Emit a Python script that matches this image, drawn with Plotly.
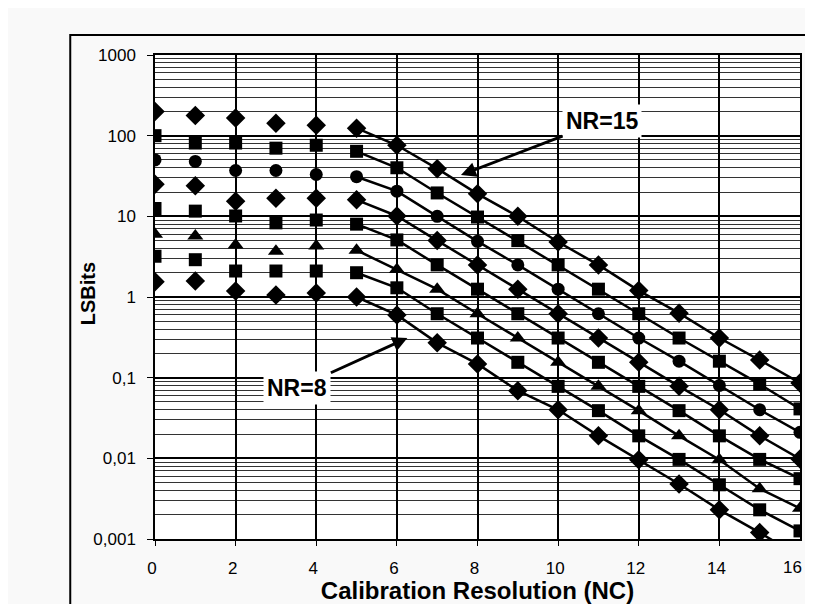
import plotly.graph_objects as go

# ---------------- data ----------------
NC_LEFT = [0, 1, 2, 3, 4]
NC_RIGHT = [5, 6, 7, 8, 9, 10, 11, 12, 13, 14, 15, 16]
NR_LIST = [15, 14, 13, 12, 11, 10, 9, 8]

left_nr15 = [200, 178, 166, 143, 135]
left_nr14 = [100, 81, 81, 70, 76]
left_nr13 = [50, 48, 37, 37, 33]
left_nr12 = [25, 24, 15.4, 16.8, 16.8]
left_nr11 = [12.5, 11.6, 10.1, 8.3, 9.0]
left_nr10 = [6.0, 5.7, 4.4, 3.7, 4.3]
left_nr9 = [3.2, 2.9, 2.1, 2.1, 2.1]
left_nr8 = [1.55, 1.58, 1.19, 1.06, 1.12]

right_nr15 = [124, 76, 39, 19, 10, 4.8, 2.5, 1.2, 0.63, 0.31, 0.165, 0.086]
right_nr14 = [64, 40, 19.5, 9.8, 5.0, 2.5, 1.25, 0.62, 0.31, 0.16, 0.083, 0.041]
right_nr13 = [31, 20.5, 10, 4.9, 2.5, 1.25, 0.62, 0.31, 0.16, 0.08, 0.040, 0.021]
right_nr12 = [16, 10.1, 5.0, 2.5, 1.25, 0.62, 0.31, 0.155, 0.078, 0.04, 0.019, 0.0098]
right_nr11 = [8, 5.1, 2.5, 1.25, 0.62, 0.31, 0.155, 0.078, 0.039, 0.019, 0.0097, 0.0056]
right_nr10 = [3.8, 2.2, 1.25, 0.62, 0.31, 0.155, 0.078, 0.039, 0.019, 0.0096, 0.0042, 0.0024]
right_nr9 = [2.0, 1.3, 0.62, 0.31, 0.155, 0.078, 0.039, 0.019, 0.0097, 0.0047, 0.0023, 0.00126]
right_nr8 = [1.0, 0.6, 0.27, 0.148, 0.069, 0.04, 0.019, 0.0096, 0.0048, 0.0023, 0.0012, 0.0006]

LEFT = [left_nr15, left_nr14, left_nr13, left_nr12, left_nr11, left_nr10, left_nr9, left_nr8]
RIGHT = [right_nr15, right_nr14, right_nr13, right_nr12, right_nr11, right_nr10, right_nr9, right_nr8]

Y_TICKVALS = [0.001, 0.01, 0.1, 1, 10, 100, 1000]
Y_TICKTEXT = ["0,001", "0,01", "0,1", "1", "10", "100", "1000"]
X_TICKVALS = [0, 2, 4, 6, 8, 10, 12, 14, 16]
X_TICKTEXT = ["0", "2", "4", "6", "8", "10", "12", "14", "16"]

# ---------------- styles ----------------
SYMBOLS = ["diamond", "square", "circle", "diamond", "square", "triangle-up", "square", "diamond"]
SIZES = {"diamond": 15, "square": 13, "circle": 13, "triangle-up": 14}
FONT = "Arial, Liberation Sans, sans-serif"

fig = go.Figure()
for nr, lv, rv, sym in zip(NR_LIST, LEFT, RIGHT, SYMBOLS):
    mk = dict(symbol=sym, size=SIZES[sym], color="black", line=dict(width=0))
    fig.add_trace(go.Scatter(x=NC_LEFT, y=lv, mode="markers", marker=mk,
                             name=f"NR={nr}", showlegend=False))
    fig.add_trace(go.Scatter(x=NC_RIGHT, y=rv, mode="lines+markers", marker=mk,
                             line=dict(color="black", width=2.5),
                             name=f"NR={nr}", showlegend=False))

# the last tick label sits at the page edge; it is drawn as an annotation so it is not dropped
fig.update_xaxes(
    range=[0, 16], tickvals=X_TICKVALS[:-1], ticktext=X_TICKTEXT[:-1],
    showgrid=True, gridcolor="black", gridwidth=1.5,
    showline=True, linecolor="black", linewidth=1.5, mirror=True,
    ticks="outside", ticklen=5, tickcolor="black",
    tickfont=dict(family=FONT, size=17, color="black"),
    ticklabelstandoff=8, ticklabelshift=-3, zeroline=False,
    title=dict(text="<b>Calibration Resolution (NC)</b>",
               font=dict(family=FONT, size=24, color="black"), standoff=3),
)
fig.add_annotation(x=X_TICKVALS[-1], y=-0.0599, xref="x", yref="paper", text=X_TICKTEXT[-1],
                   showarrow=False, xanchor="center", yanchor="middle", xshift=-8,
                   font=dict(family=FONT, size=17, color="black"))
fig.update_yaxes(
    type="log", range=[-3, 3], tickvals=Y_TICKVALS, ticktext=Y_TICKTEXT,
    showgrid=True, gridcolor="black", gridwidth=1.5,
    minor=dict(dtick="D1", showgrid=True, gridcolor="#333333", gridwidth=1.2, ticks=""),
    showline=True, linecolor="black", linewidth=1.5, mirror=True,
    ticks="outside", ticklen=6, tickcolor="black",
    tickfont=dict(family=FONT, size=17, color="black"),
    ticklabelstandoff=8,
)

# y-axis title
fig.add_annotation(x=-0.1036, y=0.506, xref="paper", yref="paper", text="<b>LSBits</b>",
                   textangle=-90, showarrow=False, xanchor="center", yanchor="middle",
                   font=dict(family=FONT, size=20, color="black"))

fig.add_annotation(x=7.59, y=1.512, xref="x", yref="y", text="<b>NR=15</b>",
                   showarrow=True, arrowhead=2, arrowsize=1, arrowwidth=3, arrowcolor="black",
                   ax=141, ay=-54, font=dict(family=FONT, size=23, color="black"),
                   bgcolor="white", borderpad=3)
fig.add_annotation(x=6.26, y=-0.508, xref="x", yref="y", text="<b>NR=8</b>",
                   showarrow=True, arrowhead=2, arrowsize=1, arrowwidth=3, arrowcolor="black",
                   ax=-110, ay=50, font=dict(family=FONT, size=23, color="black"),
                   bgcolor="white", borderpad=3)

# chart-area frame (left and top edges visible, rest cut off by the page)
fig.add_shape(type="rect", xref="paper", yref="paper",
              x0=-0.1314, x1=1.2, y0=-0.4, y1=1.0413,
              line=dict(color="black", width=2), fillcolor="rgba(0,0,0,0)", layer="below")

fig.update_layout(
    width=797, height=596,
    margin=dict(l=147, r=3, t=47, b=65),
    paper_bgcolor="#f9f9f9", plot_bgcolor="white",
    showlegend=False,
)
fig.write_html("out.html")
